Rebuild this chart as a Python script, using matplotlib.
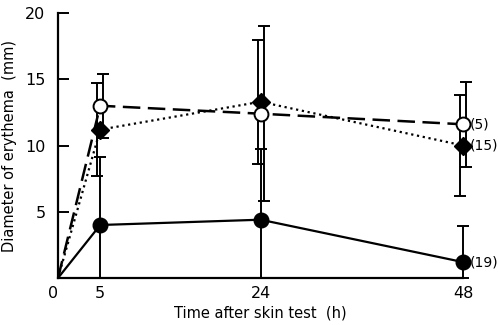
import matplotlib
matplotlib.use("Agg")
import matplotlib.pyplot as plt

# time after skin test (h)
hours = [0, 5, 24, 48]

# mean erythema diameter (mm) and SD for the three groups
filled_mean = [0, 4.0, 4.4, 1.2]
filled_sd = [0, 5.1, 5.3, 2.7]
open_mean = [0, 13.0, 12.4, 11.6]
open_sd = [0, 2.4, 6.6, 3.2]
diamond_mean = [0, 11.2, 13.3, 10.0]
diamond_sd = [0, 3.5, 4.7, 3.8]

group_n = ["(19)", "(5)", "(15)"]

plt.rcParams['font.family'] = ['DejaVu Sans']

fig = plt.figure(figsize=(4.98, 3.25), dpi=100)
ax = fig.add_axes([0.1165, 0.1446, 0.8135, 0.8154])

def bars(mean, sd, shift):
    # error bars drawn at 5, 24, 48 only, slightly shifted so they don't overlap
    xs = [h + shift for h in hours[1:]]
    lo = [min(s, m) for m, s in zip(mean[1:], sd[1:])]
    eb = ax.errorbar(xs, mean[1:], yerr=[lo, sd[1:]], fmt='none', ecolor='black',
                     elinewidth=1.4, capsize=4, capthick=1.4, zorder=2)
    for a in list(eb.lines[1]) + list(eb.lines[2]):
        a.set_clip_on(False)

bars(filled_mean, filled_sd, 0.0)
bars(open_mean, open_sd, 0.35)
bars(diamond_mean, diamond_sd, -0.35)

ax.plot(hours, filled_mean, '-', color='black', lw=1.6, zorder=3)
ax.plot(hours[1:], filled_mean[1:], 'o', color='black', ms=10.5, zorder=4, clip_on=False)
ax.plot(hours, open_mean, '--', color='black', lw=1.8, dashes=(7, 3), zorder=3)
ax.plot(hours[1:], open_mean[1:], 'o', mfc='white', mec='black', mew=1.4, ms=10,
        zorder=5, clip_on=False)
ax.plot(hours, diamond_mean, ':', color='black', lw=1.6, zorder=3)
ax.plot(hours[1:], diamond_mean[1:], 'D', color='black', ms=9, zorder=4, clip_on=False)

for mean, lab in zip([filled_mean, open_mean, diamond_mean], group_n):
    ax.annotate(lab, (hours[-1], mean[-1]), xytext=(4.5, 0), textcoords='offset points',
                va='center', ha='left', fontsize=10, annotation_clip=False)

ax.set_xlim(0, 48)
ax.set_ylim(0, 20)
ax.set_xticks(hours)
ax.set_xticklabels([str(h) for h in hours])
ax.set_yticks([5, 10, 15, 20])
ax.set_yticklabels(['5', '10', '15', '20'])
ax.tick_params(axis='y', direction='in', length=8, width=1.4, pad=9, labelsize=11.5)
ax.tick_params(axis='x', length=0, pad=6, labelsize=11.5)
ax.get_xticklabels()[0].set_horizontalalignment('right')

for side in ['top', 'right']:
    ax.spines[side].set_visible(False)
for side in ['left', 'bottom']:
    ax.spines[side].set_linewidth(1.6)

ax.set_xlabel('Time after skin test  (h)', fontsize=10.5, labelpad=3)
ax.set_ylabel('Diameter of erythema  (mm)', fontsize=10.5, labelpad=6)

fig.savefig('out.png', dpi=100)
